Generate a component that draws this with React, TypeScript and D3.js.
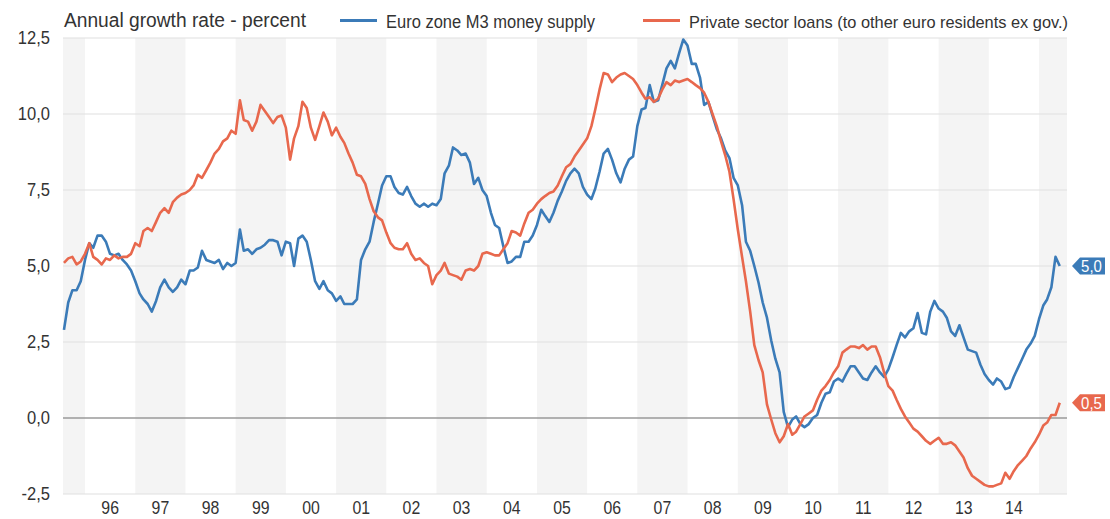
import React from "react";
import * as d3 from "d3";

// Monthly series, starting August 1995
const START_YEAR = 1995;
const START_MONTH = 7; // August (0-based)

const m3Growth = [
  2.9, 3.8, 4.2, 4.2, 4.5, 5.2, 5.75, 5.6, 6.0, 6.0,
  5.8, 5.4, 5.35, 5.4, 5.2, 5.05, 4.85, 4.5, 4.1, 3.9,
  3.75, 3.5, 3.85, 4.3, 4.55, 4.3, 4.15, 4.3, 4.55, 4.4,
  4.85, 4.85, 4.95, 5.5, 5.2, 5.15, 5.1, 5.2, 4.9, 5.1,
  5.0, 5.1, 6.2, 5.5, 5.55, 5.4, 5.55, 5.6, 5.7, 5.85,
  5.85, 5.8, 5.35, 5.8, 5.75, 5.0, 5.9, 6.0, 5.8, 5.2,
  4.5, 4.25, 4.5, 4.2, 4.1, 3.85, 4.0, 3.75, 3.75, 3.75,
  3.9, 5.2, 5.55, 5.8, 6.45, 7.05, 7.65, 7.95, 7.95, 7.6,
  7.4, 7.35, 7.6, 7.3, 7.05, 6.95, 7.05, 6.95, 7.05, 7.0,
  7.2, 8.05, 8.3, 8.9, 8.8, 8.65, 8.7, 8.4, 7.7, 7.9,
  7.5, 7.3, 6.75, 6.35, 6.25, 5.65, 5.1, 5.15, 5.3, 5.3,
  5.8, 5.8, 6.0, 6.35, 6.85, 6.65, 6.45, 6.75, 7.15, 7.45,
  7.8, 8.05, 8.2, 8.05, 7.6, 7.35, 7.2, 7.55, 8.1, 8.7,
  8.85, 8.5, 8.05, 7.75, 8.2, 8.5, 8.6, 9.6, 10.15, 10.2,
  10.95, 10.4, 10.45, 10.95, 11.5, 11.75, 11.5, 12.0, 12.45, 12.25,
  11.65, 11.65, 11.2, 10.3, 10.4, 9.95, 9.5, 9.2, 8.8, 8.55,
  7.9, 7.65, 7.0, 5.8, 5.5, 5.0, 4.45, 3.8, 3.3, 2.55,
  1.95, 1.5, 0.2, -0.3, -0.05, 0.05, -0.2, -0.3, -0.2, 0.0,
  0.1, 0.5, 0.8, 0.85, 1.2, 1.3, 1.2, 1.45, 1.7, 1.7,
  1.5, 1.3, 1.25, 1.5, 1.7, 1.5, 1.35, 1.6, 2.0, 2.4,
  2.8, 2.65, 2.85, 2.95, 3.45, 2.8, 2.75, 3.5, 3.85, 3.6,
  3.5, 3.3, 2.85, 2.7, 3.05, 2.65, 2.25, 2.2, 2.15, 1.75,
  1.45, 1.25, 1.1, 1.3, 1.2, 0.95, 1.0, 1.35, 1.65, 1.95,
  2.25, 2.45, 2.7, 3.25, 3.7, 3.9, 4.3, 5.3, 5.0,
];

const loanGrowth = [
  5.1, 5.25, 5.3, 5.05, 5.15, 5.4, 5.75, 5.3, 5.2, 5.05,
  5.25, 5.2, 5.35, 5.25, 5.3, 5.3, 5.4, 5.75, 5.65, 6.15,
  6.25, 6.15, 6.45, 6.75, 6.9, 6.75, 7.1, 7.25, 7.35, 7.4,
  7.5, 7.65, 8.0, 7.9, 8.15, 8.4, 8.7, 8.85, 9.1, 9.2,
  9.45, 9.35, 10.45, 9.8, 9.75, 9.45, 9.75, 10.3, 10.1, 9.9,
  9.7, 9.9, 9.95, 9.55, 8.5, 9.2, 9.6, 10.4, 10.2, 9.55,
  9.15, 9.6, 10.05, 9.75, 9.3, 9.55, 9.25, 9.05, 8.7, 8.4,
  8.0, 7.95, 7.7, 7.2, 6.8, 6.6, 6.5, 6.1, 5.75, 5.6,
  5.55, 5.55, 5.75, 5.4, 5.2, 5.25, 5.1, 5.0, 4.4, 4.7,
  4.85, 5.1, 4.75, 4.7, 4.65, 4.55, 4.85, 4.9, 4.85, 5.0,
  5.4, 5.45, 5.4, 5.35, 5.35, 5.55, 5.75, 6.15, 6.1, 6.0,
  6.4, 6.75, 6.85, 7.05, 7.2, 7.3, 7.4, 7.45, 7.65, 7.95,
  8.25, 8.35, 8.6, 8.8, 9.0, 9.2, 9.6, 10.15, 10.8, 11.35,
  11.3, 11.05, 11.2, 11.3, 11.35, 11.25, 11.15, 10.95, 10.7, 10.5,
  10.55, 10.4, 10.5, 10.8, 11.05, 10.95, 11.1, 11.05, 11.1, 11.15,
  11.05, 10.95, 10.85, 10.7, 10.4, 10.0, 9.6, 9.1, 8.65, 8.1,
  7.2, 6.2, 5.3, 4.5, 3.5, 2.4, 1.9, 1.5, 0.45, -0.05,
  -0.5, -0.8, -0.6, -0.2, -0.55, -0.45, -0.2, 0.05, 0.15, 0.25,
  0.6, 0.9, 1.05, 1.25, 1.5, 1.7, 2.15, 2.25, 2.35, 2.35,
  2.3, 2.4, 2.25, 2.35, 2.35, 2.0, 1.5, 1.05, 0.9, 0.6,
  0.3, 0.05, -0.15, -0.35, -0.45, -0.6, -0.75, -0.85, -0.75, -0.65,
  -0.85, -0.85, -0.8, -0.9, -1.1, -1.3, -1.65, -1.9, -2.0, -2.1,
  -2.2, -2.25, -2.25, -2.2, -2.15, -1.8, -2.0, -1.75, -1.55, -1.4,
  -1.25, -1.0, -0.8, -0.55, -0.25, -0.15, 0.1, 0.1, 0.5,
];

const yTicks = [-2.5, 0, 2.5, 5, 7.5, 10, 12.5];
const yTickLabels = ["-2,5", "0,0", "2,5", "5,0", "7,5", "10,0", "12,5"];
const xYears = [1996, 1997, 1998, 1999, 2000, 2001, 2002, 2003, 2004, 2005, 2006, 2007, 2008, 2009, 2010, 2011, 2012, 2013, 2014];
const xTickLabels = ["96", "97", "98", "99", "00", "01", "02", "03", "04", "05", "06", "07", "08", "09", "10", "11", "12", "13", "14"];
const bandYears = [1995, 1997, 1999, 2001, 2003, 2005, 2007, 2009, 2011, 2013, 2015];

const seriesNames = ["Euro zone M3 money supply", "Private sector loans (to other euro residents ex gov.)"];
const lastLabels = ["5,0", "0,5"];
const title = "Annual growth rate - percent";

const BLUE = "#3b7bb8";
const RED = "#e8684d";
const FONT = "'Liberation Sans', Arial, sans-serif";

export default function App() {
  const W = 1110, H = 519;
  const left = 63, right = 1067, top = 38, bottom = 494;

  const x = d3.scaleTime()
    .domain([new Date(1996, 0, 1), new Date(2015, 0, 1)])
    .range([85, 1039]);
  const y = d3.scaleLinear().domain([-2.5, 12.5]).range([bottom, top]);

  const months = m3Growth.map((_, i) => new Date(START_YEAR, START_MONTH + i, 1));
  const line = d3.line<number>()
    .x((_, i) => x(months[i]))
    .y((d) => y(d));

  const series = [
    { values: m3Growth, color: BLUE },
    { values: loanGrowth, color: RED },
  ];

  const tag = (val: number, color: string, label: string, key: string) => {
    const cy = y(val);
    const tip = 1072, bx = 1080, ex = 1105, h = 8.5;
    const cx = (bx + ex) / 2 - 1;
    return (
      <g key={key}>
        <path d={`M${tip},${cy} L${bx},${cy - h} L${ex},${cy - h} L${ex},${cy + h} L${bx},${cy + h} Z`} fill={color} />
        <text transform={`translate(${cx},${cy + 6}) scale(0.88,1)`} fill="#fff" fontSize={17} textAnchor="middle">{label}</text>
      </g>
    );
  };

  return (
    <svg width={W} height={H} style={{ position: "absolute", left: 0, top: 0, background: "#fff" }} fontFamily={FONT}>
      {/* alternating year bands */}
      {bandYears.map((yr) => {
        const x0 = Math.max(left, x(new Date(yr, 0, 1)));
        const x1 = Math.min(right, x(new Date(yr + 1, 0, 1)));
        return <rect key={yr} x={x0} y={top} width={Math.max(0, x1 - x0)} height={bottom - top} fill="#f4f4f4" />;
      })}
      {/* gridlines */}
      {yTicks.map((t) => (
        <line key={t} x1={left} x2={right} y1={y(t)} y2={y(t)}
          stroke={t === 0 ? "#9a9a9a" : "#e0e0e0"} strokeWidth={t === 0 ? 1.5 : 1.2} />
      ))}
      {/* y labels */}
      {yTicks.map((t, i) => (
        <text key={t} transform={`translate(50,${y(t) + 6}) scale(0.92,1)`} textAnchor="end" fontSize={18} fill="#333">
          {yTickLabels[i]}
        </text>
      ))}
      {/* x labels */}
      {xYears.map((yr, i) => {
        const cx = (x(new Date(yr, 0, 1)) + x(new Date(yr + 1, 0, 1))) / 2;
        return (
          <text key={yr} transform={`translate(${cx},514) scale(0.88,1)`} textAnchor="middle" fontSize={18} fill="#333">
            {xTickLabels[i]}
          </text>
        );
      })}
      {/* lines */}
      {series.map((s, i) => (
        <path key={i} d={line(s.values) || ""} fill="none" stroke={s.color} strokeWidth={2.6} strokeLinejoin="round" />
      ))}
      {/* last value tags */}
      {tag(m3Growth[m3Growth.length - 1], BLUE, lastLabels[0], "t0")}
      {tag(loanGrowth[loanGrowth.length - 1], RED, lastLabels[1], "t1")}
      {/* title and legend */}
      <text x={64} y={27} fontSize={20} fill="#333" textLength={242} lengthAdjust="spacingAndGlyphs">{title}</text>
      <line x1={340} x2={377} y1={20.5} y2={20.5} stroke={BLUE} strokeWidth={3} />
      <text x={386} y={28} fontSize={17.5} fill="#333" textLength={209} lengthAdjust="spacingAndGlyphs">{seriesNames[0]}</text>
      <line x1={643} x2={680} y1={20.5} y2={20.5} stroke={RED} strokeWidth={3} />
      <text x={689} y={28} fontSize={17} fill="#333" textLength={379} lengthAdjust="spacingAndGlyphs">{seriesNames[1]}</text>
    </svg>
  );
}
